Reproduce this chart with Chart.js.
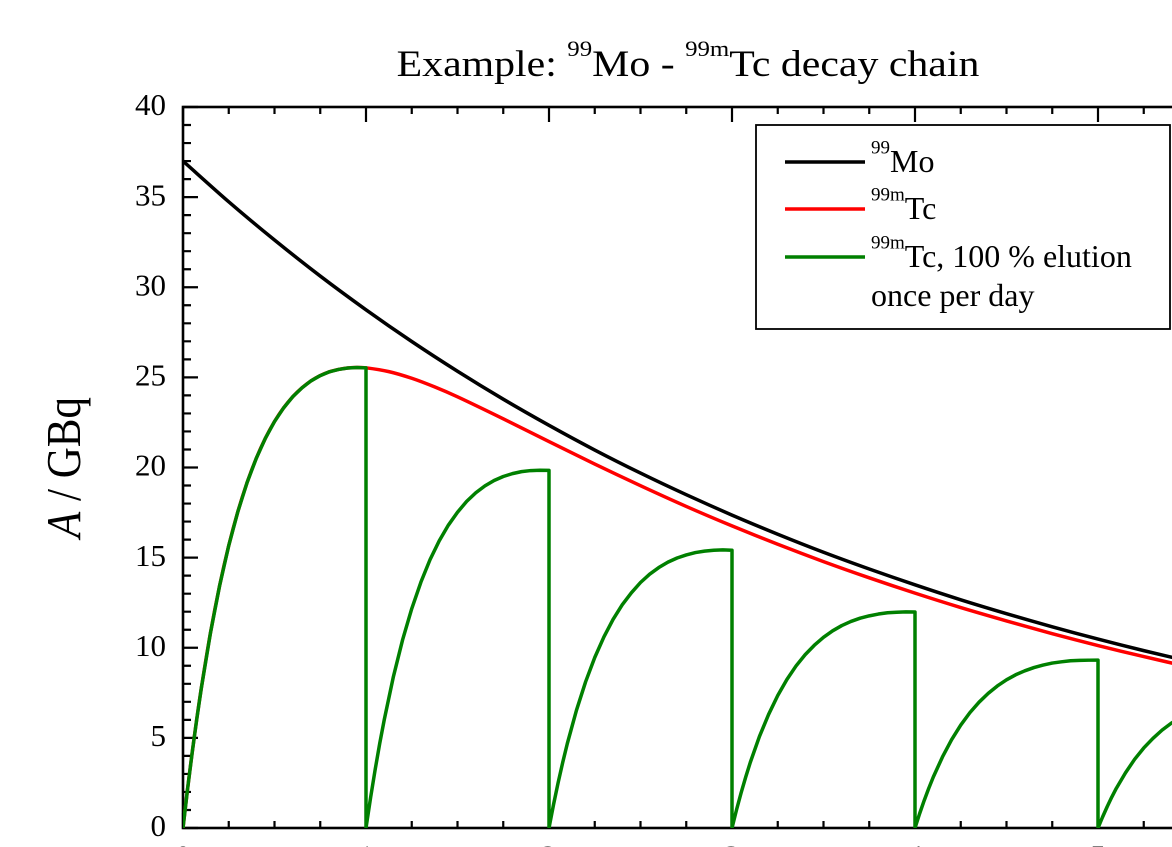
<!DOCTYPE html>
<html>
<head>
<meta charset="utf-8">
<title>99Mo - 99mTc decay chain</title>
<script src="https://cdn.jsdelivr.net/npm/chart.js@4/dist/chart.umd.min.js"></script>
<style>
  html, body { margin: 0; padding: 0; background: #fff; overflow: hidden; }
  #wrap { position: absolute; left: 0; top: 0; width: 1320px; height: 900px; }
</style>
</head>
<body>
<div id="wrap"><canvas id="chart-decay"></canvas></div>
<script>
'use strict';

//
// Data (days, GBq)
//

var moDays = [0, 0.25, 0.5, 0.75, 1, 1.25, 1.5, 1.75, 2, 2.25, 2.5, 2.75, 3,
  3.25, 3.5, 3.75, 4, 4.25, 4.5, 4.75, 5, 5.25, 5.5, 5.75, 6];
var moActivity = [37.00, 34.74, 32.62, 30.62, 28.75, 26.99, 25.34, 23.79, 22.34, 20.97, 19.69, 18.49, 17.36,
  16.30, 15.30, 14.37, 13.49, 12.66, 11.89, 11.16, 10.48, 9.84, 9.24, 8.67, 8.14];

var tcDays = [0, 0.025, 0.05, 0.075, 0.1, 0.15, 0.2, 0.25, 0.3, 0.35, 0.4, 0.45, 0.5, 0.55, 0.6, 0.65, 0.7, 0.75, 0.8, 0.85, 0.9, 0.95, 1,
  1.125, 1.25, 1.375, 1.5, 1.75, 2, 2.25, 2.5, 2.75, 3, 3.25, 3.5, 3.75, 4,
  4.25, 4.5, 4.75, 5, 5.25, 5.5, 5.75, 6];
var tcActivity = [0, 2.17, 4.17, 6.03, 7.75, 10.82, 13.44, 15.67, 17.56, 19.16, 20.50, 21.62, 22.55, 23.31, 23.93, 24.42, 24.81, 25.10, 25.31, 25.44, 25.52, 25.55, 25.53,
  25.32, 24.95, 24.47, 23.92, 22.70, 21.44, 20.19, 18.99, 17.84, 16.76, 15.74, 14.78, 13.88, 13.03,
  12.23, 11.49, 10.78, 10.12, 9.51, 8.93, 8.38, 7.87];

var elutionDays = [
  0, 0.025, 0.05, 0.075, 0.1, 0.15, 0.2, 0.25, 0.3, 0.35, 0.4, 0.45, 0.5, 0.55, 0.6, 0.65, 0.7, 0.75, 0.8, 0.85, 0.9, 0.95, 1,
  1, 1.025, 1.05, 1.075, 1.1, 1.15, 1.2, 1.25, 1.3, 1.35, 1.4, 1.45, 1.5, 1.55, 1.6, 1.65, 1.7, 1.75, 1.8, 1.85, 1.9, 1.95, 2,
  2, 2.025, 2.05, 2.075, 2.1, 2.15, 2.2, 2.25, 2.3, 2.35, 2.4, 2.45, 2.5, 2.55, 2.6, 2.65, 2.7, 2.75, 2.8, 2.85, 2.9, 2.95, 3,
  3, 3.025, 3.05, 3.075, 3.1, 3.15, 3.2, 3.25, 3.3, 3.35, 3.4, 3.45, 3.5, 3.55, 3.6, 3.65, 3.7, 3.75, 3.8, 3.85, 3.9, 3.95, 4,
  4, 4.025, 4.05, 4.075, 4.1, 4.15, 4.2, 4.25, 4.3, 4.35, 4.4, 4.45, 4.5, 4.55, 4.6, 4.65, 4.7, 4.75, 4.8, 4.85, 4.9, 4.95, 5,
  5, 5.025, 5.05, 5.075, 5.1, 5.15, 5.2, 5.25, 5.3, 5.35, 5.4, 5.45, 5.5, 5.55, 5.6, 5.65, 5.7, 5.75, 5.8, 5.85, 5.9, 5.95, 6
];
var elutedTc = [
  0, 2.17, 4.17, 6.03, 7.75, 10.82, 13.44, 15.67, 17.56, 19.16, 20.50, 21.62, 22.55, 23.31, 23.93, 24.42, 24.81, 25.10, 25.31, 25.44, 25.52, 25.55, 25.53,
  0, 1.68, 3.24, 4.69, 6.02, 8.41, 10.44, 12.17, 13.64, 14.89, 15.93, 16.80, 17.52, 18.12, 18.60, 18.98, 19.28, 19.50, 19.66, 19.77, 19.83, 19.85, 19.84,
  0, 1.31, 2.52, 3.64, 4.68, 6.53, 8.11, 9.46, 10.60, 11.57, 12.38, 13.05, 13.62, 14.08, 14.45, 14.75, 14.98, 15.15, 15.28, 15.36, 15.41, 15.43, 15.41,
  0, 1.02, 1.96, 2.83, 3.64, 5.08, 6.30, 7.35, 8.24, 8.99, 9.62, 10.14, 10.58, 10.94, 11.23, 11.46, 11.64, 11.77, 11.87, 11.94, 11.97, 11.99, 11.98,
  0, 0.79, 1.52, 2.20, 2.83, 3.94, 4.90, 5.71, 6.40, 6.98, 7.47, 7.88, 8.22, 8.50, 8.72, 8.90, 9.04, 9.15, 9.22, 9.28, 9.30, 9.31, 9.31,
  0, 0.61, 1.18, 1.71, 2.20, 3.06, 3.81, 4.44, 4.97, 5.43, 5.81, 6.12, 6.39, 6.60, 6.78, 6.92, 7.03, 7.11, 7.17, 7.21, 7.23, 7.24, 7.23
];

var seriesLabels = ['99Mo', '99mTc', '99mTc, 100 % elution once per day'];

// rich-text pieces for the title, axis title and legend
var titleParts = [{ t: 'Example: ' }, { t: '99', sup: true }, { t: 'Mo - ' }, { t: '99m', sup: true }, { t: 'Tc decay chain' }];
var yTitleParts = [{ t: 'A', italic: true }, { t: ' / GBq' }];
var legendRows = [
  [[{ t: '99', sup: true }, { t: 'Mo' }]],
  [[{ t: '99m', sup: true }, { t: 'Tc' }]],
  [[{ t: '99m', sup: true }, { t: 'Tc, 100 % elution' }], [{ t: 'once per day' }]]
];

var FONT = "'Liberation Serif', 'Times New Roman', serif";

function points(xs, ys) {
  return xs.map(function(x, i) { return { x: x, y: ys[i] }; });
}

function drawRich(ctx, parts, x, y, size, supSize, rise, align) {
  var widths = parts.map(function(p) {
    ctx.font = (p.italic ? 'italic ' : '') + (p.sup ? supSize : size) + 'px ' + FONT;
    return ctx.measureText(p.t).width;
  });
  var total = widths.reduce(function(a, b) { return a + b; }, 0);
  var cx = align === 'center' ? x - total / 2 : x;
  ctx.textAlign = 'left';
  ctx.textBaseline = 'alphabetic';
  parts.forEach(function(p, i) {
    ctx.font = (p.italic ? 'italic ' : '') + (p.sup ? supSize : size) + 'px ' + FONT;
    ctx.fillText(p.t, cx, p.sup ? y - rise : y);
    cx += widths[i];
  });
}

//
// Frame, inward ticks, title, axis title and legend
//

var decorPlugin = {
  id: 'decor',
  beforeDatasetsDraw: function(chart) {
    var ctx = chart.ctx, a = chart.chartArea;
    var xs = chart.scales.x, ys = chart.scales.y;
    ctx.save();
    ctx.strokeStyle = '#000';
    ctx.lineWidth = 2.6;
    ctx.strokeRect(a.left, a.top, a.right - a.left, a.bottom - a.top);

    ctx.lineWidth = 2.2;
    ctx.beginPath();
    for (var i = 0; i <= 24; i++) {
      var px = xs.getPixelForValue(xs.min + i * 0.25);
      var len = i % 4 === 0 ? 15 : 7;
      ctx.moveTo(px, a.bottom); ctx.lineTo(px, a.bottom - len);
      ctx.moveTo(px, a.top); ctx.lineTo(px, a.top + len);
    }
    for (var j = 0; j <= 40; j++) {
      var py = ys.getPixelForValue(ys.min + j);
      var l = j % 5 === 0 ? 15 : 8;
      ctx.moveTo(a.left, py); ctx.lineTo(a.left + l, py);
      ctx.moveTo(a.right, py); ctx.lineTo(a.right - l, py);
    }
    ctx.stroke();
    ctx.restore();
  },
  afterDraw: function(chart) {
    var ctx = chart.ctx, a = chart.chartArea;
    ctx.save();
    ctx.fillStyle = '#000';

    // title (slightly wide, as in the reference)
    ctx.save();
    ctx.translate(a.left + 505, 76);
    ctx.scale(1.13, 1);
    drawRich(ctx, titleParts, 0, 0, 37, 22, 20, 'center');
    ctx.restore();

    // y axis title
    ctx.save();
    ctx.translate(80, (a.top + a.bottom) / 2);
    ctx.scale(1.12, 1);
    ctx.rotate(-Math.PI / 2);
    drawRich(ctx, yTitleParts, 0, 0, 43, 43, 0, 'center');
    ctx.restore();

    // legend box
    var bx = a.left + 573, by = a.top + 18, bw = 414, bh = 204;
    ctx.fillStyle = '#fff';
    ctx.fillRect(bx, by, bw, bh);
    ctx.strokeStyle = '#000';
    ctx.lineWidth = 1.8;
    ctx.strokeRect(bx, by, bw, bh);

    var rowY = [by + 37, by + 84, by + 132];
    chart.data.datasets.slice().sort(function(p, q) { return p.legendIndex - q.legendIndex; }).forEach(function(ds, k) {
      ctx.strokeStyle = ds.borderColor;
      ctx.lineWidth = 3.5;
      ctx.beginPath();
      ctx.moveTo(bx + 29, rowY[k]);
      ctx.lineTo(bx + 109, rowY[k]);
      ctx.stroke();
      ctx.fillStyle = '#000';
      legendRows[k].forEach(function(line, n) {
        drawRich(ctx, line, bx + 115, rowY[k] + 10 + n * 39, 32, 19, 18.5, 'left');
      });
    });
    ctx.restore();
  }
};

//
// Chart
//

var DecayChart = (function() {

  var canvas = document.getElementById('chart-decay');

  function init(el) {
    var chart = new Chart(el, {
      type: 'line',
      data: {
        datasets: [{
          label: seriesLabels[2],
          legendIndex: 2,
          data: points(elutionDays, elutedTc),
          borderColor: '#008000',
          borderWidth: 3.5,
          tension: 0,
          order: 0
        }, {
          label: seriesLabels[1],
          legendIndex: 1,
          data: points(tcDays, tcActivity),
          borderColor: '#ff0000',
          borderWidth: 3.5,
          tension: 0.3,
          order: 1
        }, {
          label: seriesLabels[0],
          legendIndex: 0,
          data: points(moDays, moActivity),
          borderColor: '#000000',
          borderWidth: 3.5,
          tension: 0.3,
          order: 2
        }]
      },
      options: {
        responsive: true,
        maintainAspectRatio: false,
        devicePixelRatio: 2,
        animation: false,
        events: [],
        layout: { padding: { top: 107, right: 39, bottom: 0, left: 0 } },
        elements: {
          point: { radius: 0 },
          line: { borderJoinStyle: 'round', borderCapStyle: 'round' }
        },
        plugins: {
          legend: { display: false },
          tooltip: { enabled: false },
          title: { display: false }
        },
        scales: {
          x: {
            type: 'linear',
            min: 0,
            max: 6,
            grid: { display: false, drawTicks: false },
            border: { display: false },
            ticks: { stepSize: 1, color: '#000', padding: 12, font: { family: FONT, size: 31 } },
            afterFit: function(s) { s.height = 72; }
          },
          y: {
            min: 0,
            max: 40,
            grid: { display: false, drawTicks: false },
            border: { display: false },
            ticks: { stepSize: 5, color: '#000', padding: 17, font: { family: FONT, size: 31 } },
            afterFit: function(s) { s.width = 183; }
          }
        }
      },
      plugins: [decorPlugin]
    });

    el.chart = chart;
  }

  if (canvas) {
    init(canvas);
  }

})();
</script>
</body>
</html>
